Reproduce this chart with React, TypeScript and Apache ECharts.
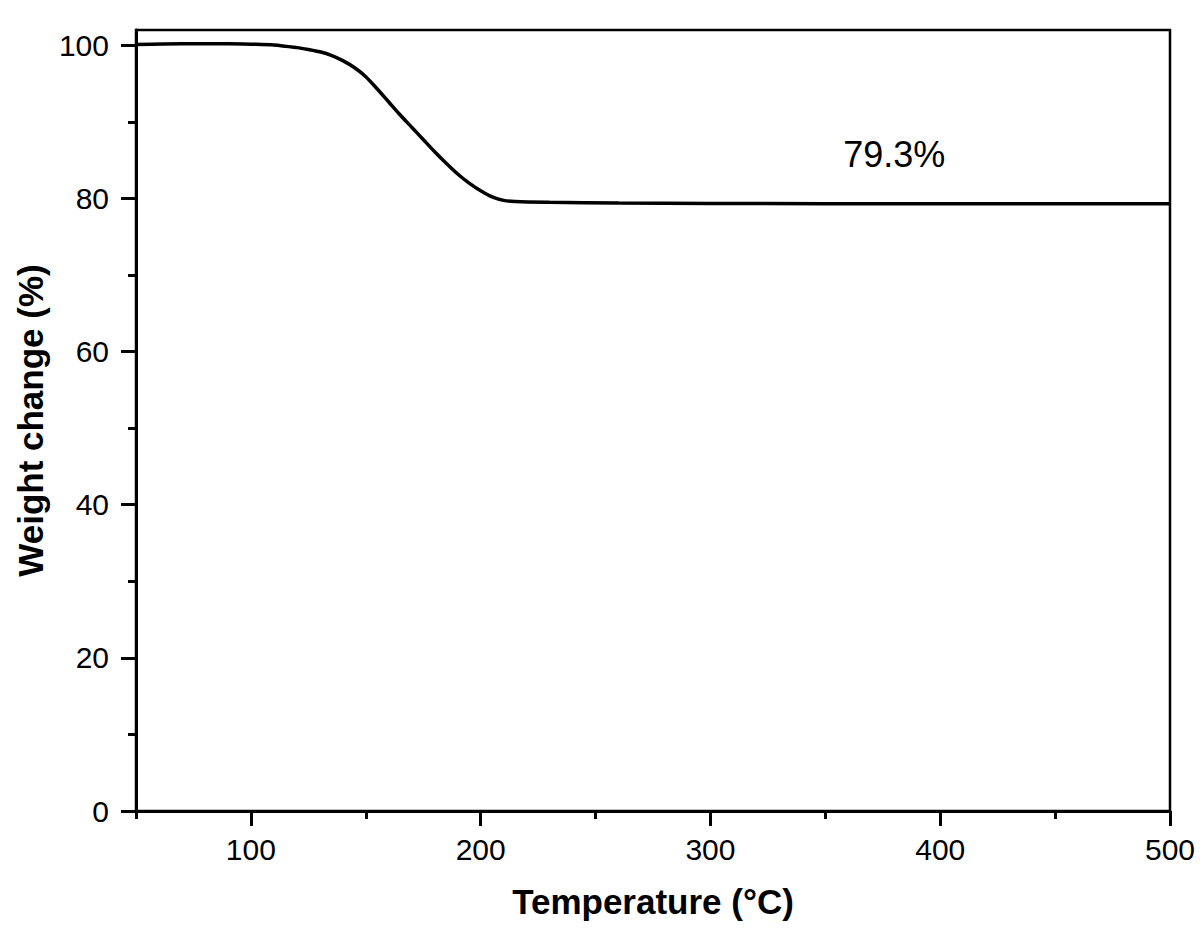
import React, { useEffect, useRef } from "react";
import * as echarts from "echarts";

const temperature = [50, 70, 90, 100, 110, 120, 125, 130, 135, 140, 145, 150, 155, 160, 165, 170, 175, 180, 185, 190, 195, 200, 205, 210, 215, 230, 260, 300, 400, 500];
const weight = [100.1, 100.2, 100.2, 100.15, 100.05, 99.7, 99.45, 99.15, 98.7, 98.0, 97.1, 95.9, 94.3, 92.6, 90.9, 89.3, 87.7, 86.1, 84.6, 83.2, 82.0, 81.0, 80.2, 79.75, 79.6, 79.5, 79.4, 79.35, 79.3, 79.3];

const xMajorTicks = [100, 200, 300, 400, 500];
const xMinorTicks = [50, 150, 250, 350, 450];
const yMajorTicks = [0, 20, 40, 60, 80, 100];
const yMinorTicks = [10, 30, 50, 70, 90];

const annotationText = "79.3%";
const annotationAt = [380, 85.8];

const FONT = "'Liberation Sans', Arial, sans-serif";

export default function App() {
  const ref = useRef<HTMLDivElement>(null);
  useEffect(() => {
    if (!ref.current) return;
    const chart = echarts.init(ref.current, undefined, { renderer: "svg" });
    const axisLine = { show: true, lineStyle: { color: "#000", width: 3 } };
    chart.setOption({
      animation: false,
      backgroundColor: "#fff",
      grid: {
        left: 136,
        right: 30,
        top: 30,
        bottom: 129,
        show: true,
        borderColor: "#000",
        borderWidth: 2.5,
        backgroundColor: "transparent",
      },
      xAxis: [
        {
          type: "value",
          min: 50,
          max: 500,
          position: "bottom",
          axisLine,
          axisTick: { show: true, length: 15, lineStyle: { color: "#000", width: 3 }, customValues: xMajorTicks },
          axisLabel: { customValues: xMajorTicks, color: "#000", fontSize: 30, fontFamily: FONT, margin: 23 },
          splitLine: { show: false },
          name: "Temperature (°C)",
          nameLocation: "middle",
          nameGap: 73,
          nameTextStyle: { color: "#000", fontSize: 35, fontWeight: "bold", fontFamily: FONT },
        },
        {
          type: "value",
          min: 50,
          max: 500,
          position: "bottom",
          axisLine: { show: false },
          axisTick: { show: true, length: 8, lineStyle: { color: "#000", width: 3 }, customValues: xMinorTicks },
          axisLabel: { show: false },
          splitLine: { show: false },
        },
      ],
      yAxis: [
        {
          type: "value",
          min: 0,
          max: 102,
          position: "left",
          axisLine,
          axisTick: { show: true, length: 15, lineStyle: { color: "#000", width: 3 }, customValues: yMajorTicks },
          axisLabel: { customValues: yMajorTicks, color: "#000", fontSize: 30, fontFamily: FONT, margin: 27 },
          splitLine: { show: false },
          name: "Weight change (%)",
          nameLocation: "middle",
          nameGap: 76,
          nameTextStyle: { color: "#000", fontSize: 35, fontWeight: "bold", fontFamily: FONT },
        },
        {
          type: "value",
          min: 0,
          max: 102,
          position: "left",
          axisLine: { show: false },
          axisTick: { show: true, length: 8, lineStyle: { color: "#000", width: 3 }, customValues: yMinorTicks },
          axisLabel: { show: false },
          splitLine: { show: false },
        },
      ],
      series: [
        {
          type: "line",
          xAxisIndex: 0,
          yAxisIndex: 0,
          data: temperature.map((t, i) => [t, weight[i]]),
          showSymbol: false,
          smooth: 0.3,
          lineStyle: { color: "#000", width: 3.5 },
          markPoint: {
            symbol: "circle",
            symbolSize: 0,
            data: [
              {
                coord: annotationAt,
                label: {
                  show: true,
                  position: "inside",
                  formatter: annotationText,
                  color: "#000",
                  fontSize: 36,
                  fontFamily: FONT,
                },
              },
            ],
          },
        },
      ],
    });
    return () => chart.dispose();
  }, []);
  return <div ref={ref} style={{ position: "absolute", left: 0, top: 0, width: 1200, height: 940 }} />;
}
